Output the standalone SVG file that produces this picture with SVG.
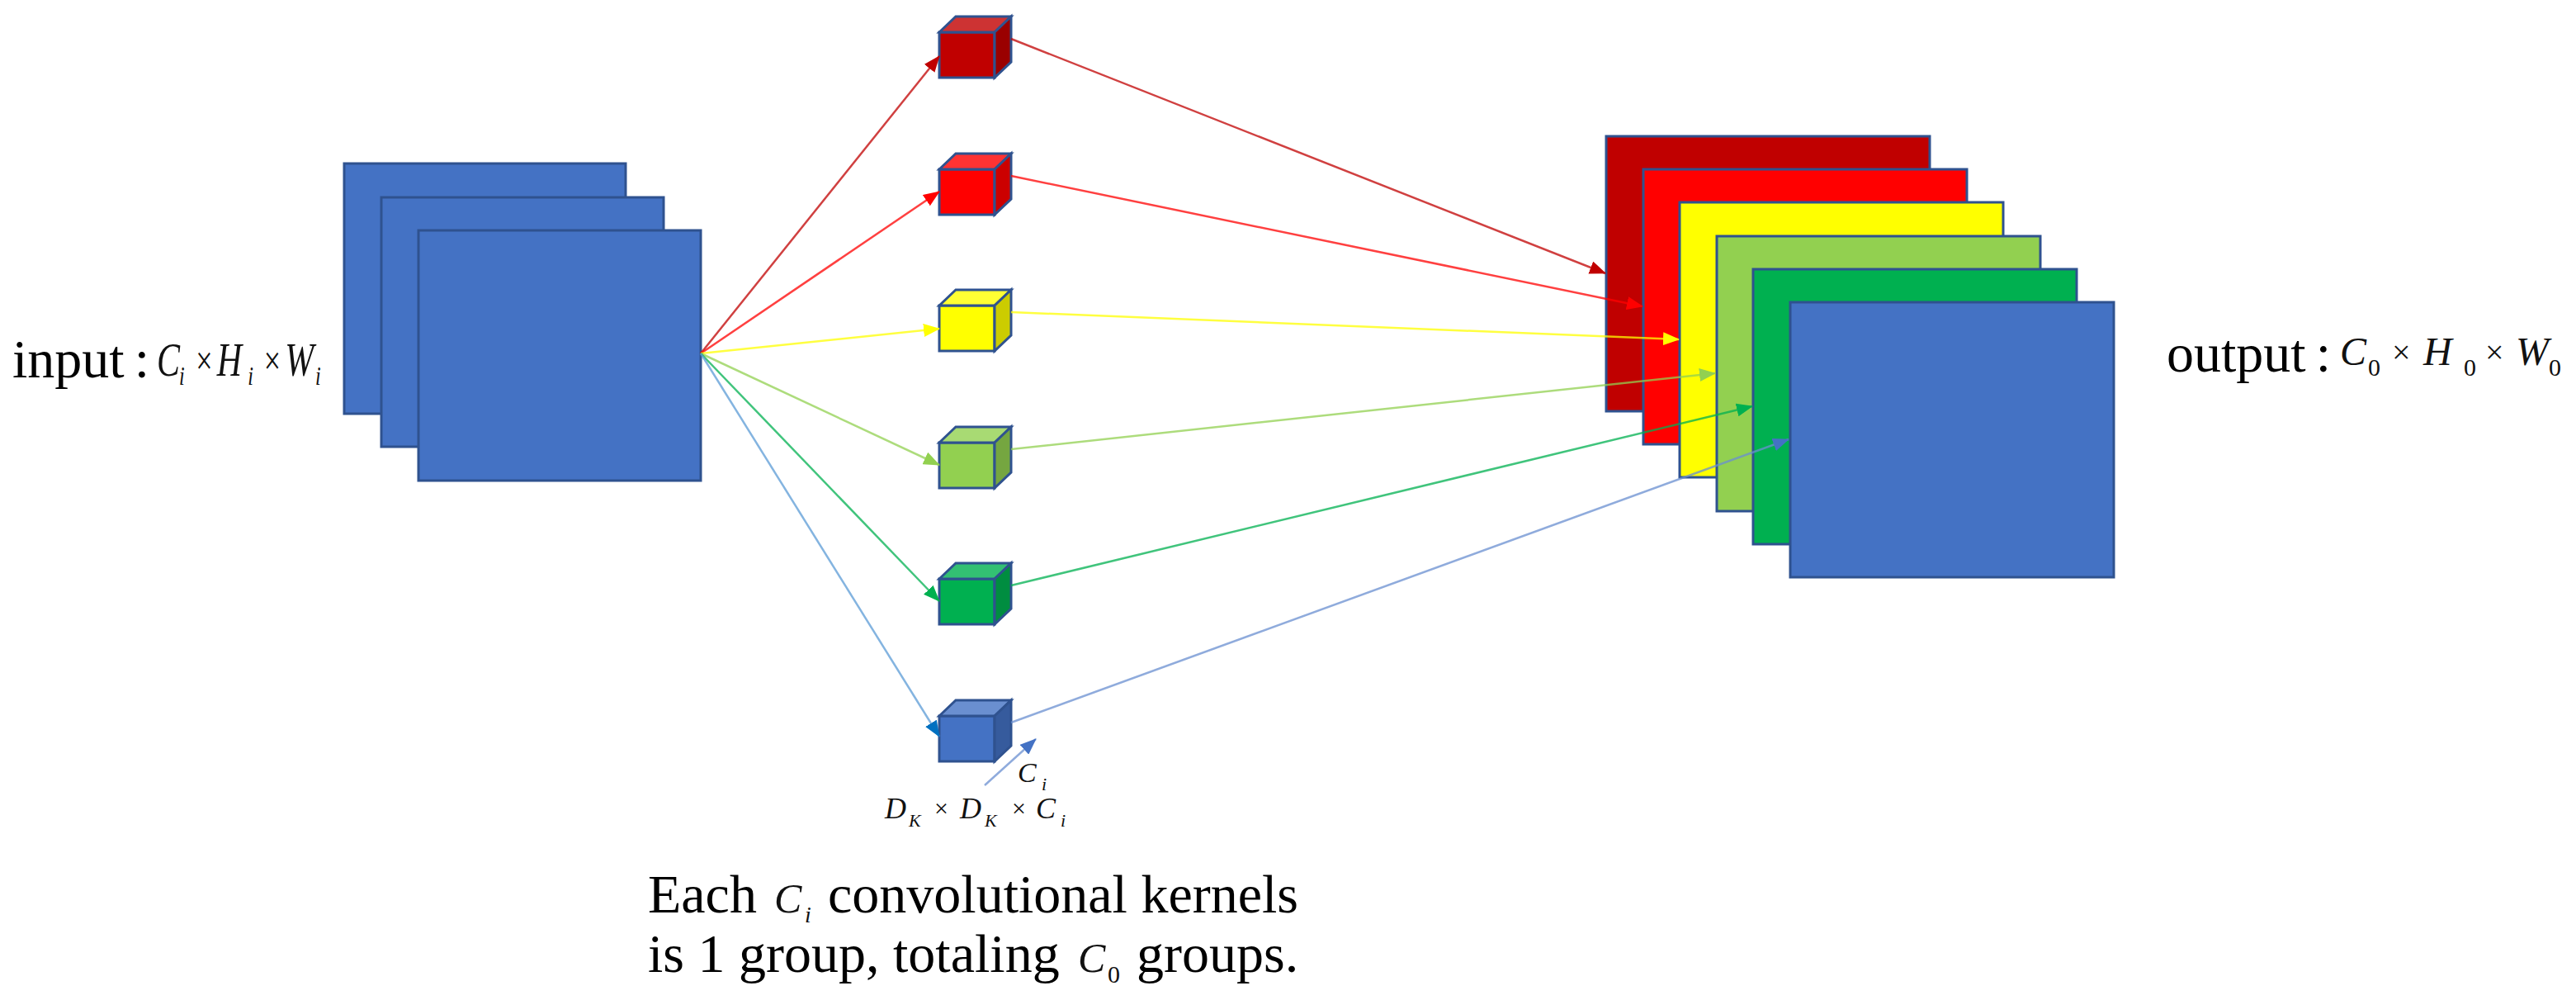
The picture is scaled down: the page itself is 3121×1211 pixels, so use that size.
<svg xmlns="http://www.w3.org/2000/svg" width="3121" height="1211" viewBox="0 0 3121 1211">
<style>
.edge{stroke:#2F528F;stroke-width:3;stroke-linejoin:miter}
.txt{font-family:"Liberation Serif","Times New Roman",serif;fill:#000}
.it{font-family:"Liberation Serif","Times New Roman",serif;font-style:italic;fill:#111}
.up{font-family:"Liberation Serif","Times New Roman",serif;fill:#111}
.ln{fill:none;stroke-width:2.5;stroke-opacity:0.75}
</style>
<defs>
<marker id="aDR" markerUnits="userSpaceOnUse" markerWidth="20" markerHeight="16" refX="19" refY="8" orient="auto"><path d="M0,0 L20,8 L0,16 z" fill="#C00000"/></marker>
<marker id="aR" markerUnits="userSpaceOnUse" markerWidth="20" markerHeight="16" refX="19" refY="8" orient="auto"><path d="M0,0 L20,8 L0,16 z" fill="#FF0000"/></marker>
<marker id="aY" markerUnits="userSpaceOnUse" markerWidth="20" markerHeight="16" refX="19" refY="8" orient="auto"><path d="M0,0 L20,8 L0,16 z" fill="#FFFF00"/></marker>
<marker id="aLG" markerUnits="userSpaceOnUse" markerWidth="20" markerHeight="16" refX="19" refY="8" orient="auto"><path d="M0,0 L20,8 L0,16 z" fill="#92D050"/></marker>
<marker id="aG" markerUnits="userSpaceOnUse" markerWidth="20" markerHeight="16" refX="19" refY="8" orient="auto"><path d="M0,0 L20,8 L0,16 z" fill="#00B050"/></marker>
<marker id="aB" markerUnits="userSpaceOnUse" markerWidth="20" markerHeight="16" refX="19" refY="8" orient="auto"><path d="M0,0 L20,8 L0,16 z" fill="#0070C0"/></marker>
<marker id="aB2" markerUnits="userSpaceOnUse" markerWidth="20" markerHeight="16" refX="19" refY="8" orient="auto"><path d="M0,0 L20,8 L0,16 z" fill="#4472C4"/></marker>
</defs>
<rect width="3121" height="1211" fill="#fff"/>

<g id="input">
<rect class="edge" x="417" y="198" width="341" height="303" fill="#4472C4"/>
<rect class="edge" x="462" y="239" width="342" height="302" fill="#4472C4"/>
<rect class="edge" x="507" y="279" width="342" height="303" fill="#4472C4"/>
</g>

<g id="kernel-1">
<rect class="edge" x="1138" y="39" width="67" height="55" fill="#C00000"/>
<polygon class="edge" points="1138,39 1158,20 1225,20 1205,39" fill="#CD3333"/>
<polygon class="edge" points="1205,39 1225,20 1225,75 1205,94" fill="#9A0000"/>
</g>
<g id="kernel-2">
<rect class="edge" x="1138" y="205" width="67" height="55" fill="#FF0000"/>
<polygon class="edge" points="1138,205 1158,186 1225,186 1205,205" fill="#FF3333"/>
<polygon class="edge" points="1205,205 1225,186 1225,241 1205,260" fill="#CC0000"/>
</g>
<g id="kernel-3">
<rect class="edge" x="1138" y="370" width="67" height="55" fill="#FFFF00"/>
<polygon class="edge" points="1138,370 1158,351 1225,351 1205,370" fill="#FFFF33"/>
<polygon class="edge" points="1205,370 1225,351 1225,406 1205,425" fill="#CCCC00"/>
</g>
<g id="kernel-4">
<rect class="edge" x="1138" y="536" width="67" height="55" fill="#92D050"/>
<polygon class="edge" points="1138,536 1158,517 1225,517 1205,536" fill="#A8DA73"/>
<polygon class="edge" points="1205,536 1225,517 1225,572 1205,591" fill="#75A640"/>
</g>
<g id="kernel-5">
<rect class="edge" x="1138" y="701" width="67" height="55" fill="#00B050"/>
<polygon class="edge" points="1138,701 1158,682 1225,682 1205,701" fill="#33C073"/>
<polygon class="edge" points="1205,701 1225,682 1225,737 1205,756" fill="#008D40"/>
</g>
<g id="kernel-6">
<rect class="edge" x="1138" y="867" width="67" height="55" fill="#4472C4"/>
<polygon class="edge" points="1138,867 1158,848 1225,848 1205,867" fill="#6A8FD0"/>
<polygon class="edge" points="1205,867 1225,848 1225,903 1205,922" fill="#365B9D"/>
</g>

<g id="output">
<rect class="edge" x="1946" y="165" width="392" height="333" fill="#C00000"/>
<rect class="edge" x="1991" y="205" width="392" height="333" fill="#FF0000"/>
<rect class="edge" x="2035" y="245" width="392" height="333" fill="#FFFF00"/>
<rect class="edge" x="2080" y="286" width="392" height="333" fill="#92D050"/>
<rect class="edge" x="2124" y="326" width="392" height="333" fill="#00B050"/>
<rect class="edge" x="2169" y="366" width="392" height="333" fill="#4472C4"/>
</g>

<g id="connectors">
<line class="ln" x1="849" y1="428" x2="1138" y2="68" stroke="#C00000" marker-end="url(#aDR)"/>
<line class="ln" x1="849" y1="428" x2="1138" y2="232" stroke="#FF0000" marker-end="url(#aR)"/>
<line class="ln" x1="849" y1="428" x2="1138" y2="398" stroke="#FFFF00" marker-end="url(#aY)"/>
<line class="ln" x1="849" y1="428" x2="1138" y2="563" stroke="#92D050" marker-end="url(#aLG)"/>
<line class="ln" x1="849" y1="428" x2="1138" y2="728" stroke="#00B050" marker-end="url(#aG)"/>
<line class="ln" x1="849" y1="428" x2="1138" y2="892" stroke="#5B9BD5" marker-end="url(#aB)"/>
<line class="ln" x1="1225" y1="47" x2="1945" y2="331" stroke="#C00000" marker-end="url(#aDR)"/>
<line class="ln" x1="1225" y1="213" x2="1990" y2="371" stroke="#FF0000" marker-end="url(#aR)"/>
<line class="ln" x1="1225" y1="378" x2="2034" y2="411" stroke="#FFFF00" marker-end="url(#aY)"/>
<line class="ln" x1="1225" y1="544" x2="2078" y2="452" stroke="#92D050" marker-end="url(#aLG)"/>
<line class="ln" x1="1225" y1="709" x2="2123" y2="492" stroke="#00B050" marker-end="url(#aG)"/>
<line class="ln" x1="1225" y1="875" x2="2167" y2="532" stroke="#6A8FD0" marker-end="url(#aB2)"/>
<line class="ln" x1="1193" y1="951" x2="1255" y2="895" stroke="#6A8FD0" marker-end="url(#aB2)"/>
</g>

<g id="label-input">
<text class="txt" x="15" y="457" font-size="66">input<tspan dx="12">:</tspan></text>
<g transform="translate(190,0) scale(0.75,1)">
<text class="it" x="0" y="455" font-size="56">C</text>
<text class="it" x="36" y="466" font-size="32">i</text>
<text class="up" x="63" y="453" font-size="48">×</text>
<text class="it" x="97" y="455" font-size="56">H</text>
<text class="it" x="147" y="466" font-size="32">i</text>
<text class="up" x="173" y="453" font-size="48">×</text>
<text class="it" x="207" y="455" font-size="56">W</text>
<text class="it" x="256" y="466" font-size="32">i</text>
</g>
</g>

<g id="label-output">
<text class="txt" x="2625" y="450" font-size="66">output<tspan dx="12">:</tspan></text>
<text class="it" x="2835" y="442" font-size="48">C</text>
<text class="up" x="2869" y="455" font-size="30" fill="#333">0</text>
<text class="up" x="2898" y="440" font-size="40">×</text>
<text class="it" x="2936" y="442" font-size="48">H</text>
<text class="up" x="2985" y="455" font-size="30" fill="#333">0</text>
<text class="up" x="3011" y="440" font-size="40">×</text>
<text class="it" x="3048" y="442" font-size="48">W</text>
<text class="up" x="3088" y="455" font-size="30" fill="#333">0</text>
</g>

<g id="label-kernel">
<text class="it" x="1233" y="947" font-size="34">C</text>
<text class="it" x="1262" y="957" font-size="22">i</text>
<text class="it" x="1072" y="991" font-size="36">D</text>
<text class="it" x="1101" y="1001" font-size="22">K</text>
<text class="up" x="1132" y="989" font-size="30">×</text>
<text class="it" x="1163" y="991" font-size="36">D</text>
<text class="it" x="1193" y="1001" font-size="22">K</text>
<text class="up" x="1226" y="989" font-size="30">×</text>
<text class="it" x="1255" y="991" font-size="36">C</text>
<text class="it" x="1285" y="1001" font-size="22">i</text>
</g>

<g id="caption">
<text class="txt" x="785" y="1105" font-size="66">Each</text>
<text class="it" x="938" y="1105" font-size="50">C</text>
<text class="it" x="975" y="1117" font-size="28">i</text>
<text class="txt" x="1003" y="1105" font-size="66">convolutional kernels</text>
<text class="txt" x="785" y="1177" font-size="66">is 1 group, totaling</text>
<text class="it" x="1306" y="1177" font-size="50">C</text>
<text class="up" x="1342" y="1190" font-size="30" fill="#333">0</text>
<text class="txt" x="1377" y="1177" font-size="66">groups.</text>
</g>
</svg>
